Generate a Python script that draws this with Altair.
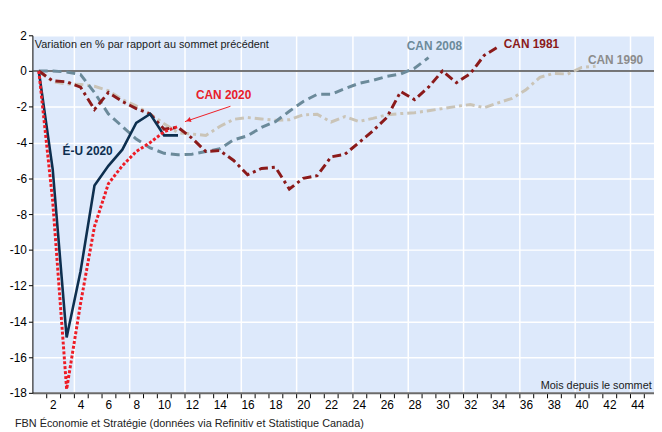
import altair as alt
import pandas as pd

FONT = "Liberation Sans"

# ---- data ----
us_2020 = [0, -5.5, -14.9, -11.2, -6.4, -5.3, -4.4, -2.9, -2.4, -3.6, -3.6]
can_2020 = [0, -7.3, -17.8, -13.0, -8.7, -6.3, -5.3, -4.5, -4.0, -3.4, -3.1]
can_2008 = [0, 0, -0.05, -0.2, -1.2, -2.4, -3.1, -3.8, -4.3, -4.6, -4.68, -4.65,
            -4.5, -4.35, -3.85, -3.62, -3.15, -2.83, -2.25, -1.7, -1.3, -1.3,
            -0.98, -0.69, -0.52, -0.3, -0.17, 0.16, 0.75]
can_1990 = [0, -0.6, -0.72, -0.75, -0.85, -1.1, -1.6, -1.95, -2.4, -2.95, -3.45,
            -3.52, -3.6, -3.1, -2.7, -2.6, -2.68, -2.75, -2.72, -2.45, -2.42,
            -2.85, -2.55, -2.82, -2.65, -2.45, -2.38, -2.33, -2.22, -2.1, -1.98,
            -1.87, -2.05, -1.78, -1.53, -1.05, -0.35, -0.13, -0.17, 0.2, 0.27]
can_1981 = [0, -0.55, -0.6, -0.9, -2.15, -1.2, -1.7, -2.1, -2.4, -3.25, -3.15,
            -3.75, -4.5, -4.45, -5.0, -5.8, -5.45, -5.38, -6.6, -6.0, -5.85,
            -4.8, -4.65, -4.0, -3.35, -2.6, -1.15, -1.6, -0.9, 0.0, -0.65,
            -0.15, 0.88, 1.35]

label_text = ["CAN 2008", "CAN 1981", "CAN 1990", "CAN 2020", "É-U 2020"]
label_month = [27.44, 34.41, 40.45, 12.29, 2.71]
label_value = [1.38, 1.52, 0.62, -1.33, -4.5]
label_color = ["#6b8a9a", "#8b1a1a", "#8c8c8c", "#e8202a", "#0d2f4f"]

arrow = {"month": [14.77], "value": [-1.97], "month2": [11.5], "value2": [-2.83]}
arrow_head = {"month": [11.75], "value": [-2.75]}

y_ticks = list(range(-18, 3, 2))
x_bounds = [k + 0.5 for k in range(1, 45)]
x_labels = list(range(2, 45, 2))


def frame(vals):
    return pd.DataFrame({"month": list(range(1, len(vals) + 1)), "value": vals})


x_axis = alt.Axis(
    values=x_bounds + x_labels,
    labelExpr="datum.value % 2 == 0 ? format(datum.value, 'd') : ''",
    labelOverlap=False, labelFlush=False,
    tickOpacity={"condition": {"test": "datum.value % 1 != 0", "value": 1}, "value": 0},
    grid=True, gridColor="white", gridWidth=1.5,
    gridOpacity={"condition": {"test": "(datum.value - 3.5) % 4 == 0", "value": 1}, "value": 0},
    domainColor="#6a6a6a", domainWidth=2,
    tickColor="black", tickSize=5, tickWidth=1,
    labelFont=FONT, labelFontSize=12, labelColor="black", labelPadding=2,
    title=None,
)
y_axis = alt.Axis(
    values=y_ticks, labelExpr="toString(datum.value)",
    grid=True, gridColor="white", gridWidth=1.5,
    domainColor="black", domainWidth=1, tickColor="black", tickSize=4,
    labelFont=FONT, labelFontSize=12, labelColor="black", labelPadding=2,
    title=None,
)
X = alt.X("month:Q", scale=alt.Scale(domain=[0.54, 45.2], nice=False, zero=False), axis=x_axis)
Y = alt.Y("value:Q", scale=alt.Scale(domain=[-18, 2], nice=False, zero=False), axis=y_axis)

zero = alt.Chart(pd.DataFrame({"value": [0]})).mark_rule(color="#4a4a4a", strokeWidth=1.5).encode(y=Y)


def line(vals, color, dash, width=3):
    kw = dict(color=color, strokeWidth=width, strokeCap="butt", strokeJoin="miter")
    if dash:
        kw["strokeDash"] = dash
    return alt.Chart(frame(vals)).mark_line(**kw).encode(x=X, y=Y)


l1990 = line(can_1990, "#cac4b7", [9, 4, 3, 4])
l2008 = line(can_2008, "#6b8a9a", [9, 5])
l1981 = line(can_1981, "#8b1a1a", [9, 4, 3, 4])
lus = line(us_2020, "#0d2f4f", None, 2.6)
lcan = line(can_2020, "#ee1c25", [3, 2])

labels = alt.Chart(pd.DataFrame({"month": label_month, "value": label_value,
                                 "text": label_text, "c": label_color})).mark_text(
    align="left", baseline="middle", font=FONT, fontSize=12, fontWeight="bold"
).encode(x=X, y=Y, text="text:N", color=alt.Color("c:N", scale=None))

arrow_line = alt.Chart(pd.DataFrame(arrow)).mark_rule(color="#ee1c25", strokeWidth=1).encode(
    x=X, y=Y, x2="month2:Q", y2="value2:Q")
arrow_pt = alt.Chart(pd.DataFrame(arrow_head)).mark_point(
    shape="triangle-left", filled=True, color="#ee1c25", size=30, angle=341, opacity=1
).encode(x=X, y=Y)

note_top = alt.Chart(pd.DataFrame({"t": ["Variation en % par rapport au sommet précédent"]})).mark_text(
    align="left", baseline="middle", font=FONT, fontSize=11, color="#1a1a1a"
).encode(x=alt.value(2.5), y=alt.value(10), text="t:N")
note_x = alt.Chart(pd.DataFrame({"t": ["Mois depuis le sommet"]})).mark_text(
    align="right", baseline="middle", font=FONT, fontSize=11, color="#1a1a1a"
).encode(x=alt.value(627), y=alt.value(355), text="t:N")
note_src = alt.Chart(pd.DataFrame({"t": ["FBN Économie et Stratégie (données via Refinitiv et Statistique Canada)"]})).mark_text(
    align="left", baseline="middle", font=FONT, fontSize=11, color="#222222"
).encode(x=alt.value(-17.7), y=alt.value(394), text="t:N")

chart = alt.layer(
    zero, l1990, l2008, l1981, lus, lcan, arrow_line, arrow_pt, labels,
    note_top, note_x, note_src
).properties(
    width=629.3, height=362,
    autosize=alt.AutoSizeParams(type="none"),
    padding={"left": 24.7, "top": 25, "right": 0, "bottom": 37},
).configure_view(fill="#dde9fb", stroke="transparent")

chart.save("out.html", embed_options={"renderer": "svg", "actions": False})
